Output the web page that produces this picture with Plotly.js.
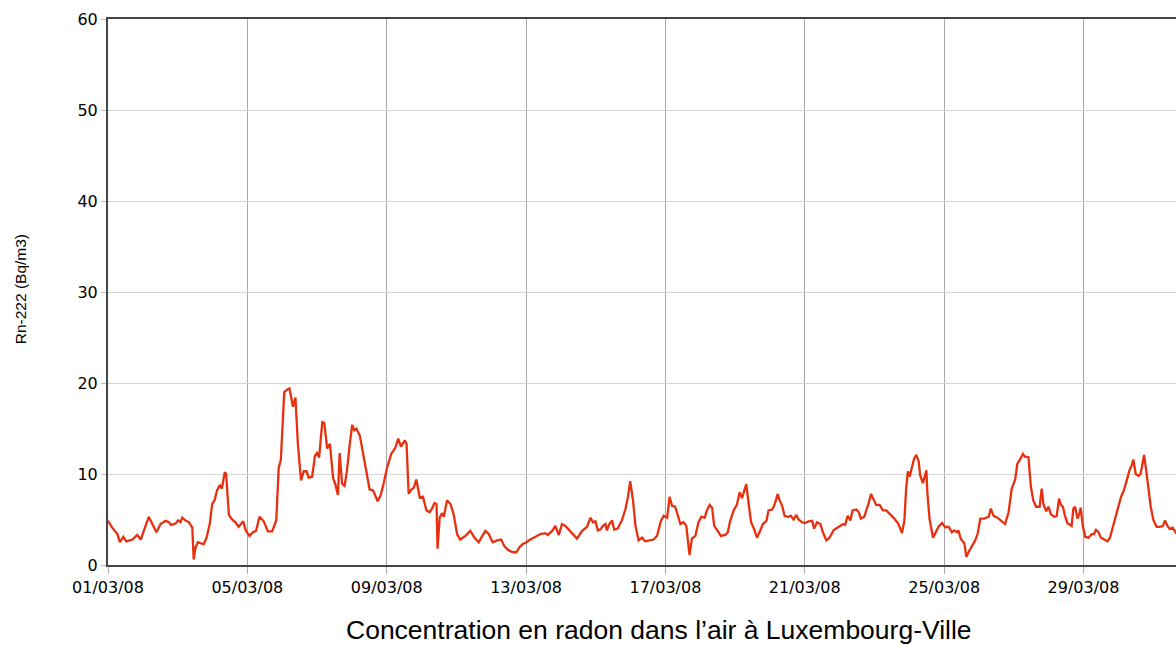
<!DOCTYPE html>
<html>
<head>
<meta charset="utf-8">
<script src="https://cdn.plot.ly/plotly-3.0.1.min.js"></script>
<style>
html,body{margin:0;padding:0;overflow:hidden;background:#fff;width:1176px;height:645px;}
#chart{width:1200px;height:645px;}
</style>
</head>
<body>
<div id="chart"></div>
<script>
// Time of each reading, in days since 01/03/08 00:00
const days = [
0.00,0.12,0.27,0.34,0.44,0.53,0.70,0.84,0.94,1.05,1.17,1.30,1.39,1.51,1.65,1.75,1.81,1.94,2.01,2.08,
2.13,2.22,2.32,2.42,2.46,2.51,2.58,2.65,2.75,2.83,2.92,2.99,3.06,3.13,3.21,3.27,3.35,3.39,3.47,3.56,
3.66,3.75,3.88,3.96,4.06,4.16,4.25,4.35,4.47,4.59,4.71,4.83,4.90,4.96,5.06,5.15,5.21,5.31,5.38,5.45,
5.54,5.62,5.70,5.76,5.86,5.94,6.00,6.06,6.15,6.21,6.29,6.37,6.46,6.53,6.60,6.65,6.72,6.79,6.86,6.94,
7.01,7.07,7.13,7.23,7.32,7.42,7.51,7.61,7.68,7.74,7.82,7.91,8.01,8.13,8.25,8.33,8.41,8.52,8.57,8.63,
8.71,8.78,8.85,8.95,9.04,9.14,9.23,9.30,9.37,9.43,9.46,9.52,9.59,9.64,9.73,9.83,9.92,10.02,10.11,10.26,
10.40,10.52,10.64,10.74,10.83,10.93,11.04,11.17,11.28,11.39,11.50,11.63,11.72,11.82,11.91,12.01,12.12,12.27,12.41,12.55,
12.62,12.75,12.84,12.94,13.03,13.13,13.27,13.46,13.61,13.75,13.85,13.92,13.99,14.06,14.13,14.21,14.28,14.32,14.39,14.47,
14.53,14.63,14.75,14.85,14.92,14.99,15.07,15.14,15.23,15.33,15.42,15.57,15.66,15.76,15.87,15.95,16.05,16.12,16.19,16.28,
16.35,16.43,16.52,16.60,16.69,16.76,16.86,16.95,17.03,17.13,17.19,17.27,17.34,17.40,17.50,17.59,17.72,17.79,17.86,17.96,
18.05,18.13,18.20,18.26,18.32,18.39,18.46,18.55,18.63,18.70,18.80,18.90,18.96,19.06,19.12,19.18,19.22,19.28,19.35,19.42,
19.52,19.60,19.68,19.76,19.82,19.92,20.01,20.11,20.21,20.27,20.35,20.45,20.52,20.62,20.71,20.83,20.97,21.10,21.16,21.23,
21.31,21.37,21.48,21.55,21.61,21.71,21.78,21.83,21.90,21.98,22.05,22.15,22.24,22.34,22.45,22.57,22.69,22.79,22.86,22.91,
22.96,23.01,23.08,23.14,23.20,23.27,23.31,23.39,23.44,23.49,23.52,23.58,23.68,23.74,23.84,23.94,24.03,24.13,24.22,24.29,
24.37,24.41,24.48,24.58,24.64,24.70,24.80,24.89,24.96,25.04,25.15,25.28,25.34,25.42,25.53,25.63,25.75,25.85,25.94,26.04,
26.10,26.18,26.26,26.32,26.42,26.49,26.56,26.64,26.74,26.80,26.85,26.93,27.00,27.06,27.16,27.23,27.30,27.35,27.41,27.47,
27.54,27.62,27.66,27.71,27.76,27.83,27.88,27.92,27.98,28.05,28.14,28.24,28.30,28.36,28.43,28.50,28.59,28.69,28.76,28.84,
28.91,29.00,29.08,29.16,29.24,29.32,29.39,29.43,29.50,29.58,29.64,29.70,29.74,29.80,29.86,29.93,30.01,30.10,30.20,30.28,
30.34,30.41,30.48,30.56,30.66,30.75,30.90
];
// Rn-222 concentration (Bq/m3)
const radon = [
4.85,4.1,3.4,2.5,3.1,2.6,2.8,3.3,2.8,3.9,5.3,4.3,3.6,4.5,4.85,4.7,4.4,4.55,4.9,4.7,
5.2,4.9,4.7,4.1,0.6,1.9,2.5,2.4,2.3,3.0,4.5,6.7,7.1,8.2,8.8,8.4,10.2,10.0,5.5,5.0,
4.7,4.2,4.8,3.75,3.2,3.6,3.75,5.3,4.8,3.7,3.7,4.9,10.7,11.5,19.0,19.3,19.4,17.4,18.4,13.3,
9.3,10.3,10.3,9.6,9.7,12.0,12.3,11.8,15.7,15.6,12.8,13.3,9.6,8.8,7.7,12.3,8.9,8.7,10.4,13.3,
15.4,14.8,15.0,14.2,12.2,10.4,8.3,8.2,7.6,7.0,7.6,8.9,10.7,12.2,12.9,13.9,13.0,13.7,13.3,7.8,
8.3,8.5,9.4,7.4,7.5,6.0,5.8,6.2,6.8,6.7,1.8,5.2,5.7,5.3,7.1,6.7,5.6,3.4,2.8,3.2,
3.75,3.0,2.5,3.2,3.75,3.4,2.5,2.7,2.8,2.0,1.6,1.4,1.4,2.0,2.3,2.5,2.8,3.1,3.4,3.5,
3.3,3.75,4.3,3.3,4.5,4.3,3.75,2.9,3.75,4.2,5.2,4.7,4.8,3.8,3.9,4.3,4.5,3.8,4.5,4.9,
3.9,4.0,4.9,6.1,7.4,9.2,7.1,4.3,2.7,3.0,2.6,2.7,2.8,3.2,4.85,5.4,5.2,7.5,6.5,6.4,
5.6,4.5,4.7,4.3,1.1,2.9,3.2,4.7,5.3,5.2,6.0,6.6,6.3,4.3,3.75,3.2,3.3,3.6,4.85,6.0,
6.6,8.0,7.35,8.0,8.9,6.7,4.7,3.9,3.0,3.6,4.5,4.85,6.0,6.1,6.5,7.2,7.8,7.1,6.5,5.4,
5.3,5.4,5.0,5.5,5.0,4.7,4.6,4.8,4.85,4.0,4.7,4.5,3.6,2.7,3.0,3.85,4.2,4.5,4.4,5.4,
4.9,6.0,6.1,5.8,5.1,5.3,6.2,6.7,7.8,7.2,6.6,6.6,6.0,6.0,5.6,5.1,4.5,3.5,4.9,8.4,
10.3,9.7,10.8,11.7,12.1,11.4,9.9,9.0,9.7,10.4,7.85,5.1,3.0,3.4,4.2,4.6,4.15,4.2,3.6,3.8,
3.6,3.8,2.85,2.4,0.9,1.4,2.1,2.7,3.4,5.1,5.1,5.3,6.2,5.4,5.2,4.9,4.5,5.8,8.4,9.4,
11.1,11.6,12.2,11.9,11.85,8.6,7.1,6.4,6.4,8.4,6.7,5.9,6.4,5.6,5.3,5.4,7.3,6.6,6.4,5.4,
4.6,4.4,4.3,6.2,6.4,5.1,5.6,6.3,4.3,3.1,3.0,3.4,3.4,3.85,3.6,3.0,2.85,2.6,3.0,4.15,
5.4,6.4,7.5,8.2,9.3,10.4,11.0,11.6,10.0,9.8,10.0,11.4,12.1,10.4,8.3,6.4,4.9,4.2,4.2,4.3,
4.9,4.3,3.95,4.1,3.5,3.3,3.5
];
const startDate = Date.UTC(2008, 2, 1);
const yTickVals = [0,10,20,30,40,50,60];
const xTitle = "Concentration en radon dans l’air à Luxembourg-Ville";
const yTitle = "Rn-222 (Bq/m3)";

function pad(n){return (n<10?'0':'')+n;}
function toDateStr(d){
  const t = new Date(startDate + Math.round(d*24*60)*60000);
  return t.getUTCFullYear()+'-'+pad(t.getUTCMonth()+1)+'-'+pad(t.getUTCDate())+' '+pad(t.getUTCHours())+':'+pad(t.getUTCMinutes());
}
const xDates = days.map(toDateStr);

const trace = {
  x: xDates, y: radon, type: 'scatter', mode: 'lines',
  line: {color: '#e8300f', width: 2.3, shape: 'linear'},
  hoverinfo: 'x+y'
};

const layout = {
  width: 1200, height: 645,
  margin: {l: 108, r: 12, t: 19, b: 80},
  paper_bgcolor: '#ffffff', plot_bgcolor: '#ffffff',
  showlegend: false,
  font: {family: 'DejaVu Sans, Verdana, sans-serif', size: 16, color: '#000'},
  xaxis: {
    type: 'date',
    range: ['2008-03-01 00:00', '2008-04-01 00:00'],
    tick0: '2008-03-01', dtick: 4*86400000,
    tickformat: '%d/%m/%y',
    showgrid: true, gridcolor: '#a8a8a8', gridwidth: 1,
    showline: true, linecolor: '#444', linewidth: 2, mirror: true,
    ticks: 'outside', ticklen: 7, tickcolor: '#a8a8a8', tickwidth: 1,
    tickfont: {family: 'DejaVu Sans, Verdana, sans-serif', size: 16, color: '#000'},
    zeroline: false, fixedrange: true
  },
  yaxis: {
    range: [0, 60], tickvals: yTickVals,
    showgrid: true, gridcolor: '#d4d4d4', gridwidth: 1,
    showline: true, linecolor: '#444', linewidth: 2, mirror: true,
    ticks: 'outside', ticklen: 5, tickcolor: '#bbb', tickwidth: 1,
    tickfont: {family: 'DejaVu Sans, Verdana, sans-serif', size: 16, color: '#000'},
    zeroline: false, fixedrange: true
  },
  annotations: [{
    text: xTitle, xref: 'paper', yref: 'paper',
    x: 0.51, y: -0.088, xanchor: 'center', yanchor: 'top', showarrow: false,
    font: {family: 'Liberation Sans, Arial, sans-serif', size: 26.5, color: '#000'}
  }, {
    text: yTitle, xref: 'paper', yref: 'paper', textangle: -90,
    x: -0.0815, y: 0.505, xanchor: 'center', yanchor: 'middle', showarrow: false,
    font: {family: 'Liberation Sans, Arial, sans-serif', size: 15.5, color: '#000'}
  }]
};

Plotly.newPlot('chart', [trace], layout, {displayModeBar: false, staticPlot: true});
</script>
</body>
</html>
